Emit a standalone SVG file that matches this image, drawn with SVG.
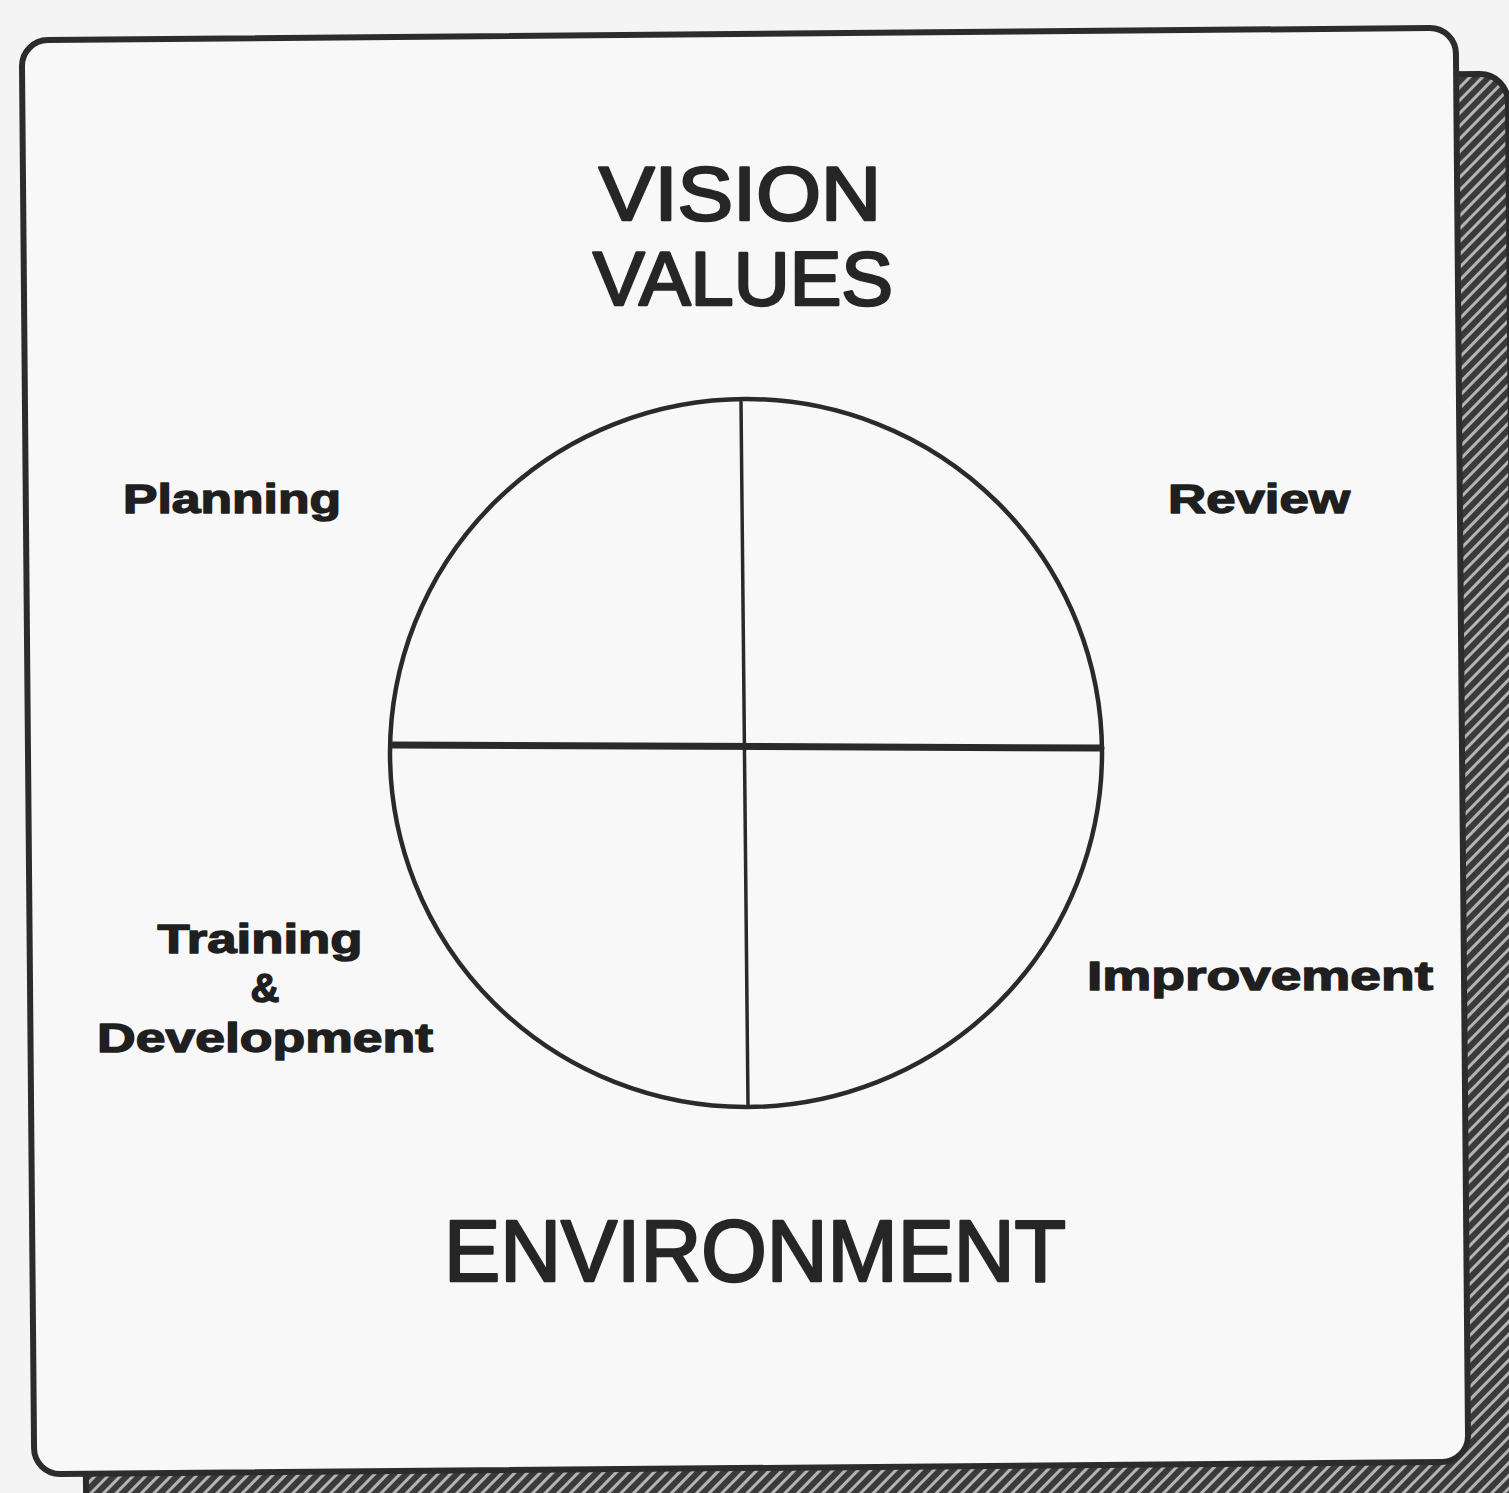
<svg xmlns="http://www.w3.org/2000/svg" width="1509" height="1493" viewBox="0 0 1509 1493">
  <style>
    .title { font-family: "Liberation Sans", Arial, sans-serif; font-weight: normal; fill: #262626; stroke: #262626; stroke-width: 2.6; stroke-linejoin: round; text-anchor: middle; }
    .label { font-family: "Liberation Sans", Arial, sans-serif; font-weight: bold; fill: #1f1f1f; stroke: #1f1f1f; stroke-width: 1.4; stroke-linejoin: round; }
    .line { stroke: #2a2a2a; fill: none; stroke-linecap: round; }
  </style>
  <defs>
    <pattern id="hatch" width="9" height="9" patternUnits="userSpaceOnUse" patternTransform="rotate(45)">
      <rect width="9" height="9" fill="#3a3a3a"/>
      <line x1="4.5" y1="0" x2="4.5" y2="9" stroke="#b4b4b4" stroke-width="3"/>
    </pattern>
  </defs>

  <rect width="1509" height="1493" fill="#f4f4f4"/>

  <g id="shadow">
    <rect x="80" y="80" width="1434" height="1434" rx="28" fill="url(#hatch)" stroke="#2a2a2a" stroke-width="6" transform="rotate(-0.5 797 797)"/>
  </g>

  <g id="card">
    <rect x="28" y="34" width="1434" height="1434" rx="26" fill="#f8f8f8" stroke="#2c2c2c" stroke-width="6" transform="rotate(-0.5 745 751)"/>
  </g>

  <g id="wheel">
    <ellipse cx="746" cy="753" rx="356" ry="354" class="line" stroke-width="4.5"/>
  </g>

  <g id="connectors">
    <line x1="741" y1="402" x2="748" y2="1106" class="line" stroke-width="3.5"/>
    <line x1="393" y1="745" x2="1101" y2="748" class="line" stroke-width="7"/>
  </g>

  <g id="node-vision-values">
    <text class="title" x="740" y="220" font-size="76" textLength="282" lengthAdjust="spacingAndGlyphs">VISION</text>
    <text class="title" x="743" y="305" font-size="76" textLength="300" lengthAdjust="spacingAndGlyphs">VALUES</text>
  </g>

  <g id="node-environment">
    <text class="title" x="755" y="1281" font-size="88" textLength="622" lengthAdjust="spacingAndGlyphs">ENVIRONMENT</text>
  </g>

  <g id="node-planning">
    <text class="label" x="123" y="513" font-size="40" textLength="218" lengthAdjust="spacingAndGlyphs">Planning</text>
  </g>

  <g id="node-review">
    <text class="label" x="1168" y="513" font-size="40" textLength="182" lengthAdjust="spacingAndGlyphs">Review</text>
  </g>

  <g id="node-training">
    <text class="label" x="260" y="953" font-size="40" text-anchor="middle" textLength="205" lengthAdjust="spacingAndGlyphs">Training</text>
    <text class="label" x="265" y="1002" font-size="40" text-anchor="middle">&amp;</text>
    <text class="label" x="265" y="1052" font-size="40" text-anchor="middle" textLength="336" lengthAdjust="spacingAndGlyphs">Development</text>
  </g>

  <g id="node-improvement">
    <text class="label" x="1087" y="990" font-size="40" textLength="346" lengthAdjust="spacingAndGlyphs">Improvement</text>
  </g>
</svg>
